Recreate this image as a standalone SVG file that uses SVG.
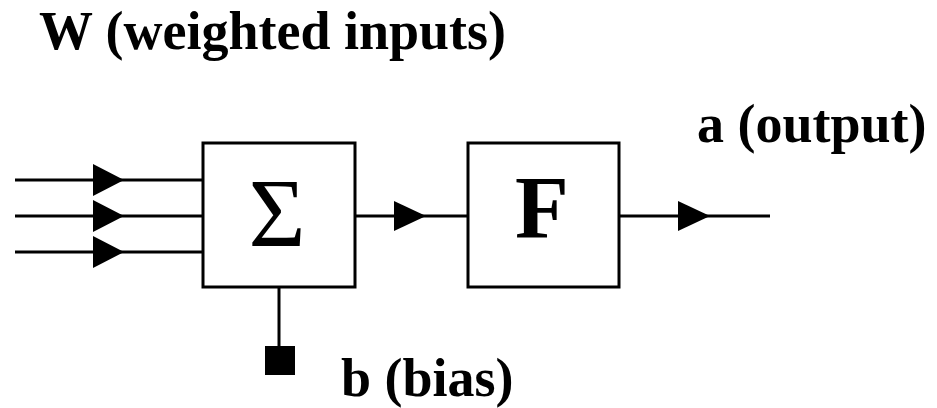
<svg xmlns="http://www.w3.org/2000/svg" width="937" height="408" viewBox="0 0 937 408">
<style>
.ln{stroke:#000;stroke-width:3;fill:none}
.box{stroke:#000;stroke-width:3;fill:#fff}
.ah{fill:#000}
.lbl{font-family:"Liberation Serif","Times New Roman",serif;font-weight:bold;font-size:54px;fill:#000}
</style>
<rect width="937" height="408" fill="#fff"/>
<g id="connectors">
<line class="ln" x1="15" y1="180" x2="203" y2="180"/>
<line class="ln" x1="15" y1="216" x2="203" y2="216"/>
<line class="ln" x1="15" y1="252" x2="203" y2="252"/>
<polygon class="ah" points="93,164 124,180 93,196"/>
<polygon class="ah" points="93,200 124,216 93,232"/>
<polygon class="ah" points="93,236 124,252 93,268"/>
<line class="ln" x1="355" y1="216" x2="468" y2="216"/>
<polygon class="ah" points="394,201 426,216 394,231"/>
<line class="ln" x1="619" y1="216" x2="770" y2="216"/>
<polygon class="ah" points="678,201 710,216 678,231"/>
<line class="ln" x1="279" y1="287" x2="279" y2="350"/>
</g>
<g id="sum">
<rect class="box" x="203" y="143" width="152" height="144"/>
<text x="277" y="246" text-anchor="middle" font-family="Liberation Serif, Times New Roman, serif" font-size="98">Σ</text>
</g>
<g id="transfer">
<rect class="box" x="468" y="143" width="151" height="144"/>
<text x="542" y="237" text-anchor="middle" font-family="Liberation Serif, Times New Roman, serif" font-weight="bold" font-size="88">F</text>
</g>
<g id="bias">
<rect x="265" y="346" width="30" height="29" fill="#000"/>
<text class="lbl" x="341" y="396">b (bias)</text>
</g>
<g id="weights">
<text class="lbl" x="39" y="49">W (weighted inputs)</text>
</g>
<g id="output">
<text class="lbl" x="697" y="142">a (output)</text>
</g>
</svg>
